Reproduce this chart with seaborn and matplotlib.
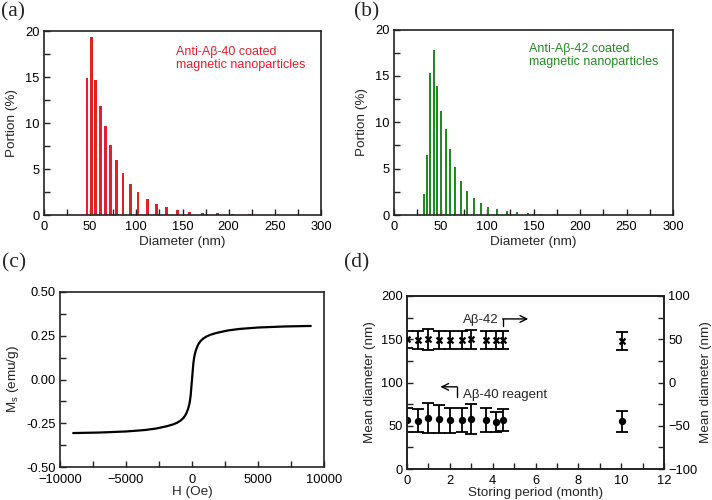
import numpy as np
import pandas as pd
import matplotlib
matplotlib.use("Agg")
import matplotlib.pyplot as plt
import seaborn as sns
from matplotlib.ticker import MultipleLocator, FormatStrFormatter

# ---------------- data ----------------
diam_a = [46.6, 51.0, 55.6, 61.0, 66.5, 71.9, 78.7, 85.6, 93.2, 101.8, 111.6,
          121.7, 132.5, 144.1, 157.8, 171.9, 187.8, 204.4, 223.0, 243.0, 264.0, 288.0]
portion_a = [14.9, 19.4, 14.7, 11.8, 9.7, 7.6, 6.0, 4.6, 3.4, 2.5, 1.74,
             1.23, 0.83, 0.54, 0.36, 0.25, 0.18, 0.12, 0.08, 0.05, 0.03, 0.02]

diam_b = [32.7, 35.9, 39.1, 42.7, 46.6, 51.0, 55.6, 60.6, 66.0, 72.1, 78.6, 85.8,
          93.3, 101.2, 111.2, 121.3, 132.0, 144.2, 157.8, 171.9, 187.8, 204.4, 223.0]
portion_b = [2.23, 6.46, 15.26, 17.77, 13.9, 11.24, 9.23, 7.11, 5.17, 3.66, 2.62, 1.83,
             1.29, 0.86, 0.61, 0.43, 0.29, 0.18, 0.12, 0.08, 0.05, 0.03, 0.02]

field_H = [-9000, -7000, -5000, -3600, -2700, -1900, -1400, -1100, -850, -650, -500, -425,
           -350, -275, -200, -150, -100, -50, 0, 50, 100, 150, 200, 275, 350, 425, 500,
           650, 850, 1100, 1400, 1900, 2700, 3600, 5000, 7000, 9000]
moment_M = [-0.305, -0.302, -0.296, -0.288, -0.279, -0.266, -0.255, -0.245, -0.233, -0.219,
            -0.203, -0.192, -0.178, -0.162, -0.140, -0.118, -0.090, -0.045, 0.0, 0.045,
            0.090, 0.118, 0.140, 0.162, 0.178, 0.192, 0.203, 0.219, 0.233, 0.245, 0.255,
            0.266, 0.279, 0.288, 0.296, 0.302, 0.305]

months = [0, 0.5, 1.0, 1.5, 2.0, 2.55, 3.0, 3.7, 4.15, 4.5, 10.05]
mean42 = [50, 49, 50, 49, 49, 49, 50, 49, 49, 49, 48]
err42 = [10, 10, 12, 10, 10, 10, 11, 10, 10, 10, 10]
mean40 = [56.5, 55.8, 58.8, 57.7, 56.5, 56.2, 57.7, 56.5, 54.2, 56.9, 55.0]
err40 = [13.5, 13.5, 17, 16, 14.5, 14, 17, 13.5, 12, 13, 12.5]

text_a = "Anti-A\u03b2-40 coated\nmagnetic nanoparticles"
text_b = "Anti-A\u03b2-42 coated\nmagnetic nanoparticles"

# ---------------- style ----------------
sns.set_theme(style="ticks")
plt.rcParams['font.family'] = ['Liberation Sans', 'DejaVu Sans']
plt.rcParams['axes.linewidth'] = 1.2
plt.rcParams['axes.edgecolor'] = '#222222'
plt.rcParams['xtick.color'] = '#222222'
plt.rcParams['ytick.color'] = '#222222'
plt.rcParams['xtick.labelcolor'] = 'black'
plt.rcParams['ytick.labelcolor'] = 'black'

RED = '#e0202c'
GREEN = '#238a23'
TICK_FS = 9.3
LAB_FS = 9.7

fig = plt.figure(figsize=(7.12, 5.0), dpi=100)
W, H = 712, 500

def add_ax(l, r, t, b):
    return fig.add_axes([l / W, (H - b) / H, (r - l) / W, (b - t) / H])

def style_ax(ax, right=False):
    ax.tick_params(which='both', direction='in', length=4, width=1.0,
                   top=False, right=right, labelsize=TICK_FS, pad=3)
    ax.tick_params(axis='x', which='both', pad=4.5)
    for s in ax.spines.values():
        s.set_visible(True)
        s.set_linewidth(1.2)
        s.set_color('#222222')

# ---------------- (a) ----------------
axa = add_ax(44, 321, 31, 215)
dfa = pd.DataFrame({'d': diam_a, 'p': portion_a})
sns.barplot(data=dfa, x='d', y='p', native_scale=True, width=0.72, color=RED,
            saturation=1, errorbar=None, linewidth=0, ax=axa)
axa.set_xlim(0, 300)
axa.set_ylim(0, 20)
axa.xaxis.set_major_locator(MultipleLocator(50))
axa.xaxis.set_minor_locator(MultipleLocator(25))
axa.yaxis.set_major_locator(MultipleLocator(5))
axa.yaxis.set_minor_locator(MultipleLocator(2.5))
axa.set_xlabel('Diameter (nm)', fontsize=LAB_FS, labelpad=2)
axa.set_ylabel('Portion (%)', fontsize=LAB_FS, labelpad=5)
style_ax(axa)
axa.text(0.478, 0.92, text_a, transform=axa.transAxes, color=RED, fontsize=9,
         ha='left', va='top', linespacing=1.1)

# ---------------- (b) ----------------
axb = add_ax(394, 673, 29.5, 215)
dfb = pd.DataFrame({'d': diam_b, 'p': portion_b})
sns.barplot(data=dfb, x='d', y='p', native_scale=True, width=0.7, color=GREEN,
            saturation=1, errorbar=None, linewidth=0, ax=axb)
axb.set_xlim(0, 300)
axb.set_ylim(0, 20)
axb.xaxis.set_major_locator(MultipleLocator(50))
axb.xaxis.set_minor_locator(MultipleLocator(25))
axb.yaxis.set_major_locator(MultipleLocator(5))
axb.yaxis.set_minor_locator(MultipleLocator(2.5))
axb.set_xlabel('Diameter (nm)', fontsize=LAB_FS, labelpad=2)
axb.set_ylabel('Portion (%)', fontsize=LAB_FS, labelpad=5)
style_ax(axb)
axb.text(0.483, 0.925, text_b, transform=axb.transAxes, color=GREEN, fontsize=9,
         ha='left', va='top', linespacing=1.1)

# ---------------- (c) ----------------
axc = add_ax(60, 324, 291.7, 467.3)
dfc = pd.DataFrame({'H': field_H, 'M': moment_M})
sns.lineplot(data=dfc, x='H', y='M', sort=False, estimator=None, color='black',
             linewidth=1.6, ax=axc)
axc.set_xlim(-10000, 10000)
axc.set_ylim(-0.5, 0.5)
axc.xaxis.set_major_locator(MultipleLocator(5000))
axc.xaxis.set_minor_locator(MultipleLocator(2500))
axc.yaxis.set_major_locator(MultipleLocator(0.25))
axc.yaxis.set_minor_locator(MultipleLocator(0.125))
axc.yaxis.set_major_formatter(FormatStrFormatter('%.2f'))
axc.set_xlabel('H (Oe)', fontsize=LAB_FS, labelpad=0)
axc.set_ylabel(r'M$_\mathregular{s}$ (emu/g)', fontsize=LAB_FS, labelpad=4)
style_ax(axc)

# ---------------- (d) ----------------
axd = add_ax(407, 664, 296, 469)
axd2 = axd.twinx()
df40 = pd.DataFrame({'m': months, 'v': mean40, 'e': err40})
df42 = pd.DataFrame({'m': months, 'v': mean42, 'e': err42})

axd.errorbar(df40['m'], df40['v'], yerr=df40['e'], fmt='none', ecolor='black',
             elinewidth=1.3, capsize=4.2, capthick=1.3)
sns.scatterplot(data=df40, x='m', y='v', marker='o', s=28, color='black',
                edgecolor='black', linewidth=0, ax=axd, zorder=3)
axd2.errorbar(df42['m'], df42['v'], yerr=df42['e'], fmt='none', ecolor='black',
              elinewidth=1.3, capsize=4.2, capthick=1.3)
sns.scatterplot(data=df42, x='m', y='v', marker='x', s=18, color='black',
                linewidth=1.6, ax=axd2, zorder=3)

axd.set_xlim(0, 12)
axd.set_ylim(0, 200)
axd2.set_ylim(-100, 100)
axd.xaxis.set_major_locator(MultipleLocator(2))
axd.xaxis.set_minor_locator(MultipleLocator(1))
axd.yaxis.set_major_locator(MultipleLocator(50))
axd.yaxis.set_minor_locator(MultipleLocator(25))
axd2.yaxis.set_major_locator(MultipleLocator(50))
axd2.yaxis.set_minor_locator(MultipleLocator(25))
axd.set_xlabel('Storing period (month)', fontsize=LAB_FS, labelpad=0)
axd.set_ylabel('Mean diameter (nm)', fontsize=LAB_FS, labelpad=4)
axd2.set_ylabel('Mean diameter (nm)', fontsize=LAB_FS, labelpad=1.5)
style_ax(axd)
axd.tick_params(which='both', right=False)
axd2.tick_params(which='both', direction='in', length=4, width=1.0, left=False,
                 right=True, labelsize=TICK_FS, pad=3)
axd2.yaxis.set_label_position('right')

# annotations (left-axis data coordinates)
axd.text(4.3, 172, 'A\u03b2-42', fontsize=9.5, ha='right', va='center')
axd.plot([4.46, 4.46], [165, 173.5], color='black', lw=1.0)
axd.annotate('', xy=(5.66, 173.5), xytext=(4.46, 173.5),
             arrowprops=dict(arrowstyle='->', color='black', lw=1.0,
                             shrinkA=0, shrinkB=0))
axd.text(2.6, 85.5, 'A\u03b2-40 reagent', fontsize=9.5, ha='left', va='center')
axd.plot([2.34, 2.34], [83.5, 95], color='black', lw=1.0)
axd.annotate('', xy=(1.56, 95), xytext=(2.34, 95),
             arrowprops=dict(arrowstyle='->', color='black', lw=1.0,
                             shrinkA=0, shrinkB=0))

# ---------------- panel letters ----------------
for lab, x, y in [('(a)', 1, 2), ('(b)', 354, 2), ('(c)', 2, 253), ('(d)', 344, 253)]:
    fig.text(x / W, 1 - y / H, lab, fontsize=15.5, ha='left', va='top',
             family=['Liberation Serif', 'DejaVu Serif'])

fig.savefig('out.png', dpi=100)
